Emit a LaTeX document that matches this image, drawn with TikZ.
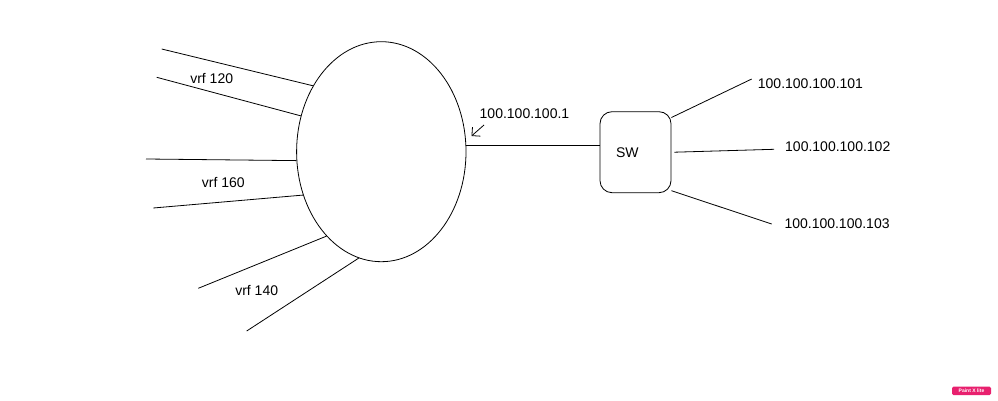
\documentclass[tikz,border=0pt]{standalone}
\usepackage{fontspec}
\setmainfont{Liberation Sans}
\usetikzlibrary{arrows.meta,positioning,shapes.geometric}

\begin{document}
\begin{tikzpicture}[
    x=1pt, y=-1pt,
    vrfline/.style={line width=0.8pt},
    iplabel/.style={font=\fontsize{14}{16}\selectfont, inner sep=0pt, anchor=west},
    vrflabel/.style={font=\fontsize{14}{16}\selectfont, inner sep=0pt},
    swbox/.style={draw, line width=0.8pt, rounded corners=12pt, minimum width=71pt, minimum height=81pt,
      text width=39pt, inner xsep=16pt, align=left, font=\fontsize{14}{16}\selectfont},
    iparrow/.style={-{Straight Barb[length=6pt, width=12pt]}, line width=0.8pt}
  ]
    \useasboundingbox (0,0) rectangle (998,401);

    % core cloud and switch
    \node[ellipse, draw, line width=0.8pt, inner sep=0pt, minimum width=169.4pt, minimum height=220pt] (hub) at (381.3,151.7) {};
    \node[swbox] (sw) at (635.5,152.2) {SW};

    % vrf legs
    \coordinate (v120a) at (161.7,49);
    \coordinate (v120b) at (156.7,77.3);
    \coordinate (v160a) at (146,159);
    \coordinate (v160b) at (153.3,208);
    \coordinate (v140a) at (198.3,288.3);
    \coordinate (v140b) at (246.7,331);
    \draw[vrfline] (v120a) -- (hub.136.8);
    \draw[vrfline] (v120b) -- (hub.156.8);
    \draw[vrfline] (v160a) -- (hub.186.6);
    \draw[vrfline] (v160b) -- (hub.209.3);
    \draw[vrfline] (v140a) -- (hub.237.1);
    \draw[vrfline] (v140b) -- (hub.258);
    \node[vrflabel] (lbl120) at (211.7,79) {vrf 120};
    \node[vrflabel] (lbl160) at (223.3,182.7) {vrf 160};
    \node[vrflabel] (lbl140) at (256.7,291) {vrf 140};

    % uplink to switch
    \draw[vrfline] (hub.4) -- (hub.4 -| sw.west);
    \node[iplabel] (gwip) at (479.5,114) {100.100.100.1};
    \coordinate (gwtail) at (484,125);
    \coordinate (gwtip) at (471.5,136);
    \draw[iparrow] (gwtail) -- (gwtip);

    % hosts
    \coordinate (h101) at (751.7,79);
    \coordinate (h102) at (774,149.3);
    \coordinate (h103) at (771.7,224);
    \draw[vrfline] (sw.44) -- (h101);
    \draw[vrfline] ([xshift=3pt]sw.east) -- (h102);
    \draw[vrfline] (sw.-47) -- (h103);
    \node[iplabel] (ip101) at (757.7,83.3) {100.100.100.101};
    \node[iplabel] (ip102) at (785,146.7) {100.100.100.102};
    \node[iplabel] (ip103) at (784.3,224) {100.100.100.103};

    % watermark
    \node[fill={rgb,255:red,232;green,32;blue,110}, rounded corners=1.5pt, text=white, inner sep=1pt,
      minimum width=39pt, minimum height=8.5pt, font=\fontsize{5}{5}\selectfont\bfseries] (mark) at (971.5,390.8) {Paint X lite};
  \end{tikzpicture}
\end{document}
